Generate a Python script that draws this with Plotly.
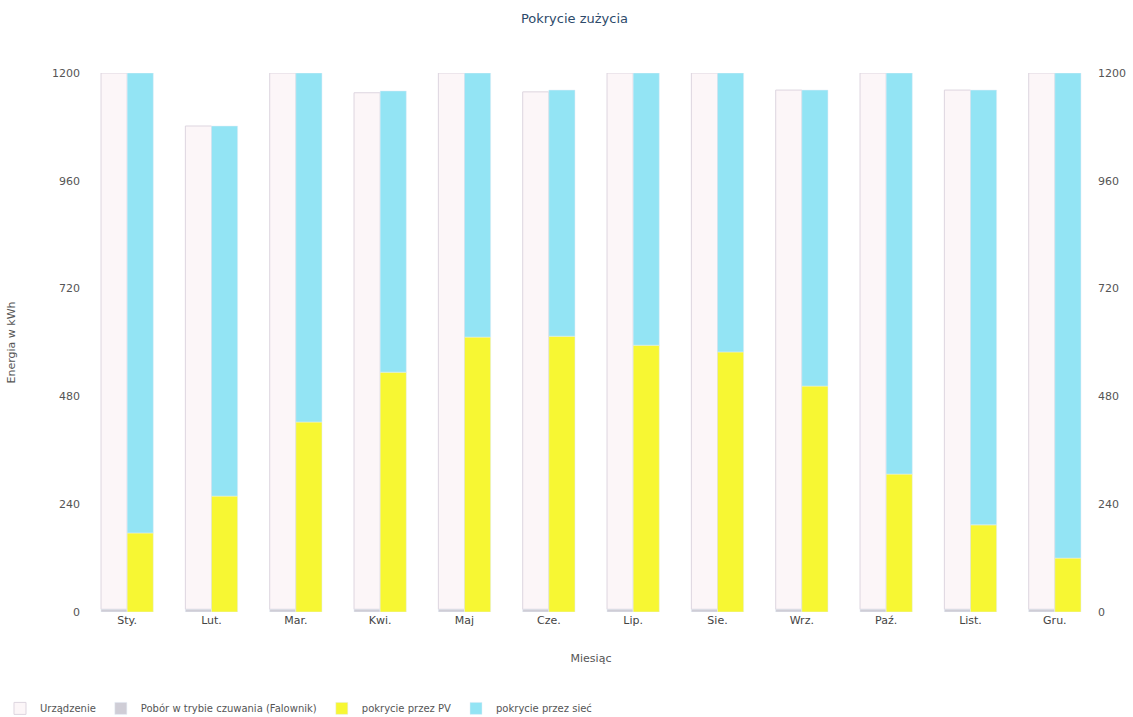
import plotly.graph_objects as go

months = ["Sty.", "Lut.", "Mar.", "Kwi.", "Maj", "Cze.", "Lip.", "Sie.", "Wrz.", "Paź.", "List.", "Gru."]
standby = [6, 6, 6, 6, 6, 6, 6, 6, 6, 6, 6, 6]
device = [1194, 1076, 1194, 1150, 1194, 1152, 1194, 1194, 1156, 1194, 1156, 1194]
pv = [176, 258, 423, 534, 612, 614, 594, 579, 503, 307, 194, 120]
grid = [1024, 824, 777, 626, 588, 548, 606, 621, 659, 893, 968, 1080]

font = "DejaVu Sans, Verdana, sans-serif"

fig = go.Figure()
fig.add_trace(go.Bar(name="Urządzenie", x=months, y=device, base=standby, offsetgroup="a",
                     marker=dict(color="#fcf6f8", line=dict(color="#ddd5df", width=1))))
fig.add_trace(go.Bar(name="Pobór w trybie czuwania (Falownik)", x=months, y=standby, offsetgroup="a",
                     marker=dict(color="#cfcdd6")))
fig.add_trace(go.Bar(name="pokrycie przez PV", x=months, y=pv, offsetgroup="b",
                     marker=dict(color="#f7f733")))
fig.add_trace(go.Bar(name="pokrycie przez sieć", x=months, y=grid, base=pv, offsetgroup="b",
                     marker=dict(color="#93e4f4")))
fig.add_trace(go.Scatter(x=[months[0]], y=[0], yaxis="y2", mode="markers",
                         marker=dict(opacity=0), showlegend=False, hoverinfo="skip"))

fig.update_layout(
    width=1133, height=717,
    paper_bgcolor="white", plot_bgcolor="white",
    barmode="group", bargap=0.38, bargroupgap=0,
    margin=dict(l=85, r=36, t=73, b=105, autoexpand=False),
    title=dict(text="Pokrycie zużycia", x=0.507, y=0.98, xanchor="center", yanchor="top",
               font=dict(family=font, size=13, color="#2d4a6a")),
    font=dict(family=font, size=11, color="#555"),
    xaxis=dict(title=dict(text="Miesiąc", font=dict(size=11, color="#555"), standoff=28),
               automargin=False, range=[-0.5, 11.5],
               showgrid=False, showline=False, ticks="", tickfont=dict(size=11, color="#444")),
    yaxis=dict(title=dict(text="Energia w kWh", font=dict(size=11, color="#555"), standoff=34),
               automargin=False,
               range=[0, 1200], tickvals=[0, 240, 480, 720, 960, 1200], showgrid=False,
               zeroline=False, showline=False, tickfont=dict(size=11, color="#555"), ticklabelstandoff=4),
    yaxis2=dict(overlaying="y", side="right", range=[0, 1200], tickvals=[0, 240, 480, 720, 960, 1200],
                automargin=False,
                showgrid=False, zeroline=False, showline=False, tickfont=dict(size=11, color="#555")),
    legend=dict(orientation="h", x=0.0, y=0.012, xref="container", yref="container",
                xanchor="left", yanchor="middle",
                font=dict(size=10, color="#555"), traceorder="normal"),
)

fig.write_html("out.html")
